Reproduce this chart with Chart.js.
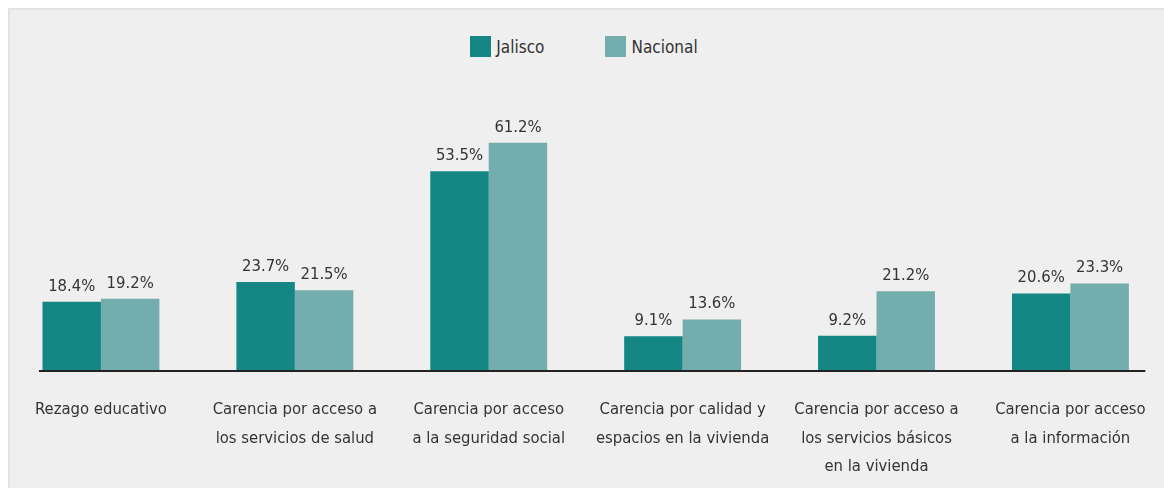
<!DOCTYPE html>
<html lang="es">
<head>
    <meta charset="UTF-8">
    <title>Carencias sociales Jalisco vs Nacional</title>
    <script src="https://cdn.jsdelivr.net/npm/chart.js"></script>
    <style>
        html, body { margin: 0; padding: 0; background: #ffffff; overflow: hidden; }
        body { width: 1164px; height: 488px; position: relative; }
        .panel {
            position: absolute; left: 8px; top: 8px; right: -4px; bottom: -4px;
            background: #eeefee;
            border: 2px solid #e2e3e3;
        }
        .chart-box { position: absolute; left: 0; top: 0; width: 1172px; height: 488px; }
        .legend {
            position: absolute; left: 0; top: 36px; width: 1168px;
            display: flex; justify-content: center; gap: 61px;
            font-family: "Liberation Sans Narrow", "DejaVu Sans Condensed", "Roboto", sans-serif;
            font-size: 17px; color: #333;
        }
        .legend span.item { display: flex; align-items: center; height: 21px; }
        .legend i { display: inline-block; width: 21px; height: 21px; margin-right: 5px; }
    </style>
</head>
<body>
    <div class="panel"></div>
    <div class="legend" id="legend"></div>
    <div class="chart-box"><canvas id="carenciasChart"></canvas></div>

    <script>
        const categorias = [
            ['Rezago educativo'],
            ['Carencia por acceso a', 'los servicios de salud'],
            ['Carencia por acceso', 'a la seguridad social'],
            ['Carencia por calidad y', 'espacios en la vivienda'],
            ['Carencia por acceso a', 'los servicios básicos', 'en la vivienda'],
            ['Carencia por acceso', 'a la información']
        ];
        const series = ['Jalisco', 'Nacional'];
        const jalisco = [18.4, 23.7, 53.5, 9.1, 9.2, 20.6];
        const nacional = [19.2, 21.5, 61.2, 13.6, 21.2, 23.3];
        const colores = ['#148784', '#74adad'];

        const FONT = '"Liberation Sans Narrow", "DejaVu Sans Condensed", "Roboto", sans-serif';

        // leyenda en html
        const legend = document.getElementById('legend');
        series.forEach((nombre, i) => {
            const item = document.createElement('span');
            item.className = 'item';
            item.innerHTML = '<i style="background:' + colores[i] + '"></i>' + nombre;
            legend.appendChild(item);
        });

        // etiquetas de valor encima de las barras
        const valorLabels = {
            id: 'valorLabels',
            afterDatasetsDraw(chart) {
                const ctx = chart.ctx;
                ctx.save();
                ctx.font = '16.5px ' + FONT;
                ctx.fillStyle = '#333333';
                ctx.textAlign = 'center';
                ctx.textBaseline = 'alphabetic';
                chart.data.datasets.forEach((ds, i) => {
                    chart.getDatasetMeta(i).data.forEach((bar, j) => {
                        ctx.fillText(ds.data[j].toFixed(1) + '%', bar.x, bar.y - 11);
                    });
                });
                ctx.restore();
            }
        };

        // linea base del eje x
        const lineaBase = {
            id: 'lineaBase',
            afterDatasetsDraw(chart) {
                const ctx = chart.ctx;
                const y = chart.scales.y.getPixelForValue(0);
                ctx.save();
                ctx.strokeStyle = '#222222';
                ctx.lineWidth = 2;
                ctx.beginPath();
                ctx.moveTo(chart.chartArea.left + 35, y + 1);
                ctx.lineTo(chart.chartArea.right - 22, y + 1);
                ctx.stroke();
                ctx.restore();
            }
        };

        const ctx = document.getElementById('carenciasChart').getContext('2d');
        new Chart(ctx, {
            type: 'bar',
            data: {
                labels: categorias,
                datasets: [
                    { label: series[0], data: jalisco, backgroundColor: colores[0], borderWidth: 0 },
                    { label: series[1], data: nacional, backgroundColor: colores[1], borderWidth: 0 }
                ]
            },
            options: {
                responsive: true,
                maintainAspectRatio: false,
                animation: false,
                datasets: { bar: { categoryPercentage: 0.603, barPercentage: 1.0 } },
                layout: { padding: { left: 4, right: 4, top: 110, bottom: 4 } },
                plugins: {
                    legend: { display: false },
                    tooltip: { enabled: false }
                },
                scales: {
                    x: {
                        grid: { display: false, drawTicks: false },
                        border: { display: false },
                        afterFit(scale) { scale.height = 114; },
                        ticks: {
                            padding: 26,
                            color: '#333333',
                            maxRotation: 0,
                            autoSkip: false,
                            font: { family: FONT, size: 16.5, lineHeight: 1.72 }
                        }
                    },
                    y: {
                        display: false,
                        min: 0,
                        max: 70
                    }
                }
            },
            plugins: [valorLabels, lineaBase]
        });
    </script>
</body>
</html>
